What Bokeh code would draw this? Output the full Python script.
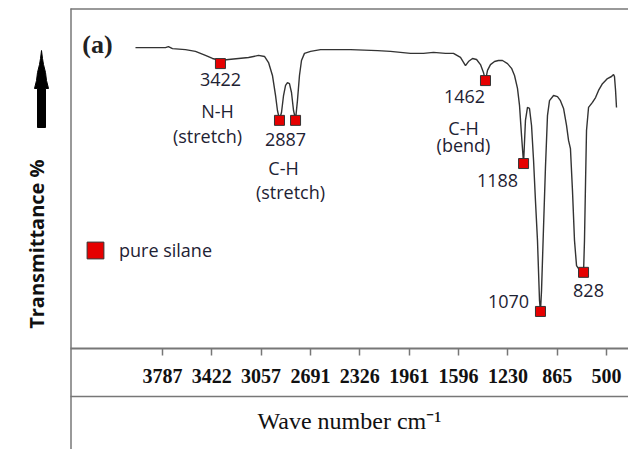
import math
from bokeh.plotting import figure
from bokeh.models import (Range1d, FixedTicker, Label, LinearAxis,
                          Legend, LegendItem, ColumnDataSource)
from bokeh.core.properties import value
from bokeh.embed import file_html
from bokeh.resources import INLINE

# ---- data ----
wavenumber = [3987, 3876, 3765, 3743, 3713, 3617, 3543, 3469, 3417, 3358, 3298, 3224,
              3150, 3076, 3032, 3002, 2973, 2950, 2936, 2921, 2906, 2891, 2876, 2862,
              2847, 2832, 2817, 2802, 2788, 2773, 2758, 2736, 2691, 2617, 2521, 2395,
              2195, 2099, 2025, 1951, 1855, 1781, 1692, 1633, 1581, 1544, 1522, 1492,
              1462, 1433, 1411, 1396, 1381, 1359, 1329, 1300, 1270, 1233, 1203, 1181,
              1159, 1144, 1129, 1114, 1100, 1085, 1070, 1055, 1040, 1026, 1011, 996,
              989, 981, 967, 952, 937, 922, 892, 863, 841, 818, 796, 781,
              767, 752, 737, 722, 707, 670, 663, 655, 648, 633, 604, 581,
              559, 530, 493, 463, 448, 441, 433, 426]
transmittance = [88.5, 88.5, 88.5, 88.8, 88.2, 87.9, 87.4, 86.2, 85.3, 84.7, 85.0, 85.3,
                 85.6, 86.2, 85.9, 84.1, 80.3, 74.4, 70.0, 67.4, 69.4, 74.4, 77.4, 78.2,
                 77.9, 75.3, 70.0, 67.4, 72.9, 80.3, 84.7, 86.8, 87.4, 87.9, 87.9, 87.9,
                 87.6, 87.4, 87.1, 86.8, 86.8, 87.1, 86.8, 86.8, 85.6, 83.2, 84.4, 85.3,
                 85.0, 83.5, 81.2, 78.8, 81.8, 83.5, 84.4, 84.7, 84.7, 83.8, 82.4, 80.3,
                 76.5, 71.5, 62.6, 54.4, 67.1, 70.9, 70.6, 65.6, 55.3, 43.5, 31.8, 14.1,
                 10.9, 17.1, 34.7, 53.2, 68.5, 72.9, 74.4, 74.1, 72.9, 70.6, 65.6, 61.2,
                 58.8, 46.5, 31.8, 24.4, 23.5, 22.4, 31.8, 49.4, 64.1, 70.9, 72.4, 73.8,
                 75.9, 77.9, 79.4, 80.0, 80.6, 80.0, 75.9, 70.9]

peak_wn = [3358, 2921, 2802, 1396, 1114, 989, 670]
peak_T = [83.8, 67.1, 67.1, 78.8, 54.4, 10.9, 22.4]

tick_values = [3787, 3422, 3057, 2691, 2326, 1961, 1596, 1230, 865, 500]

annot_text = ["3422", "N-H", "(stretch)", "2887", "C-H", "(stretch)",
              "1462", "C-H", "(bend)", "1188", "1070", "828"]
series_name = "pure silane"


# pixel -> data helpers for decoration placement
def X(px):
    return 3787 - (px - 162) * 7.403


def Y(py):
    return (348 - py) / 3.4


annot_px = [220, 217, 207, 285, 283, 290, 464, 463, 463, 497, 508, 588]
annot_py = [79, 110, 135, 139, 167, 191, 96, 127, 144, 180, 301, 290]

p = figure(width=628, height=449, output_backend="svg", toolbar_location=None,
           x_range=Range1d(X(0), X(628)), y_range=Range1d(Y(449), Y(0)),
           x_axis_location=None, y_axis_location=None,
           min_border=0, min_border_left=0, min_border_right=0,
           min_border_top=0, min_border_bottom=0)
p.outline_line_color = None
p.grid.visible = False
p.background_fill_color = "white"
p.border_fill_color = "white"

ax = LinearAxis(fixed_location=0, bounds=(X(70), X(628)))
ax.ticker = FixedTicker(ticks=tick_values)
ax.major_label_text_font = "Liberation Serif"
ax.major_label_text_font_style = "bold"
ax.major_label_text_font_size = "20px"
ax.major_label_text_color = "#111111"
ax.major_label_standoff = 13
ax.axis_line_color = "#777777"
ax.axis_line_width = 2
ax.major_tick_line_color = "#777777"
ax.major_tick_line_width = 1.5
ax.major_tick_out = 7
ax.major_tick_in = 0
ax.minor_tick_line_color = None
ax.axis_label = "Wave number cm\u207b\u00b9"
ax.axis_label_text_font = "Liberation Serif"
ax.axis_label_text_font_style = "normal"
ax.axis_label_text_font_size = "24px"
ax.axis_label_text_color = "#111111"
ax.axis_label_standoff = 22
p.add_layout(ax, "below")

# frame lines
p.segment(x0=[X(70.5), X(70), X(70)], y0=[Y(8), Y(8.5), Y(396)],
          x1=[X(70.5), X(628), X(628)], y1=[Y(449), Y(8.5), Y(396)],
          line_color="#777777", line_width=1.5)

# spectrum
p.line(wavenumber, transmittance, line_color="#333333", line_width=1.4)
pk = p.scatter(peak_wn, peak_T, marker="square", size=10, fill_color="#e60000",
               line_color="#333333", line_width=1)

src = ColumnDataSource(dict(x=[X(v) for v in annot_px], y=[Y(v) for v in annot_py],
                            t=annot_text))
p.text("x", "y", text="t", source=src, text_font=value("Open Sans"),
       text_font_size="18px", text_align="center", text_baseline="middle",
       text_color="#1e2233")

# (a)
p.add_layout(Label(x=X(97), y=Y(44), text="(a)", text_font="Liberation Serif",
                   text_font_style="bold", text_font_size="26px", text_align="center",
                   text_baseline="middle", text_color="#222222"))

# y label and up arrow
p.add_layout(Label(x=X(36), y=Y(241), text="Transmittance  %", angle=90, angle_units="deg",
                   text_font="Open Sans", text_font_style="bold", text_font_size="20px",
                   text_align="center", text_baseline="middle", text_color="#111111"))
arrow_px = [41, 42, 43, 45, 46, 48, 45, 45, 37, 37, 34, 36, 37, 39, 40]
arrow_py = [50, 58, 64, 72, 80, 88, 88, 127, 127, 88, 88, 80, 72, 64, 58]
p.patch([X(v) for v in arrow_px], [Y(v) for v in arrow_py],
        fill_color="black", line_color="black")

legend = Legend(items=[LegendItem(label=series_name, renderers=[pk])], location=(74, 178),
                glyph_width=42, glyph_height=42, padding=0, spacing=0, margin=0,
                border_line_color=None, background_fill_alpha=0,
                label_text_font="Open Sans", label_text_font_size="18px",
                label_standoff=3, label_text_color="#1e2233")
p.add_layout(legend)

open("out.html", "w").write(file_html(p, INLINE))
